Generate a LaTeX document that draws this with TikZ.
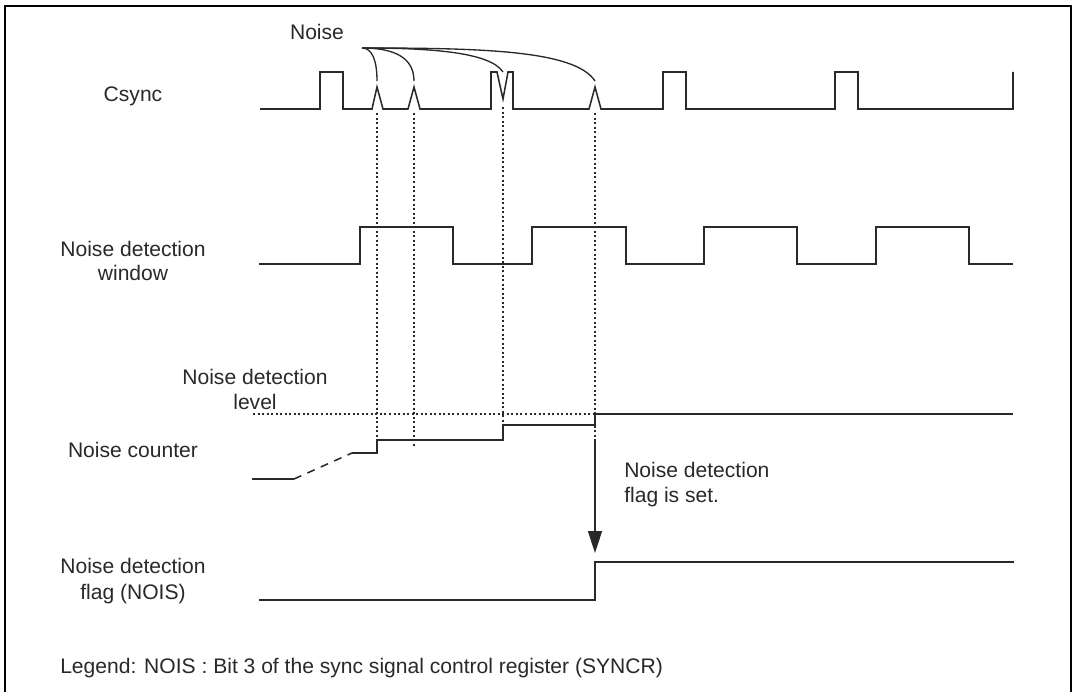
\documentclass[tikz,border=0pt]{standalone}
\usepackage{fontspec}
\setmainfont{Liberation Sans}
\usetikzlibrary{arrows.meta}
\definecolor{inkgray}{HTML}{2B2829}

\begin{document}
\begin{tikzpicture}[
  x=0.75pt, y=-0.75pt,
  >={Triangle[length=16.5pt, width=10.5pt]},
  wave/.style={inkgray, line width=1.15pt, line join=miter},
  guide/.style={inkgray, line width=1.25pt, dash pattern=on 1.5pt off 1.9pt},
  label/.style={font=\fontsize{15.8}{18.7}\selectfont, text=inkgray, align=center, inner sep=0pt},
]
\useasboundingbox (0,0) rectangle (1072,692);
\fill[white] (0,0) rectangle (1072,692);

% Frame (open at the bottom)
\draw[black, line width=1.9pt] (5,692) -- (5,6) -- (1071,6) -- (1071,692);

% Labels
\node[label, anchor=base] (noise) at (317,40) {Noise};
\node[label, anchor=base] (csync) at (133,101.5) {Csync};
\node[label] (window) at (133,261) {Noise detection\\window};
\node[label] (level) at (255,389.5) {Noise detection\\level};
\node[label, anchor=base] (counter) at (133,457) {Noise counter};
\node[label, font=\fontsize{15.8}{19.5}\selectfont] (flag) at (133,581) {Noise detection\\flag (NOIS)};
\node[label, anchor=base west] (isset) at (624,477) {Noise detection};
\node[label, anchor=base west] (isset2) at (624,502) {flag is set.};
\node[label, anchor=base west] (legend) at (60,673.5) {Legend: NOIS : Bit 3 of the sync signal control register (SYNCR)};

% ============ Csync ============
\draw[wave] (260,109) -- (320,109) -- (320,72) -- (343,72) -- (343,109)
  -- (372,109) -- (377,87) coordinate (s1) -- (383,109)
  -- (408,109) -- (414,87) coordinate (s2) -- (420,109)
  -- (491,109) -- (491,72) -- (497,72) -- (503,99) coordinate (s3) -- (508,72) -- (513,72) -- (513,109)
  -- (589,109) -- (595,87) coordinate (s4) -- (601,109)
  -- (663,109) -- (663,72) -- (686,72) -- (686,109)
  -- (835,109) -- (835,72) -- (858,72) -- (858,109)
  -- (1013,109) -- (1013,72);

% Noise callouts
\coordinate (root) at (362,48);
\coordinate (c1) at (377,81);
\coordinate (c2) at (414,81);
\coordinate (c3) at (503,72);
\coordinate (c4) at (595,81);
\draw[wave, line width=1pt] (root) .. controls (372,48) and (377,60) .. (c1);
\draw[wave, line width=1pt] (root) .. controls (395,48) and (414,58) .. (c2);
\draw[wave, line width=1pt] (root) .. controls (430,48) and (490,52) .. (c3);
\draw[wave, line width=1pt] (root) .. controls (480,48) and (575,50) .. (c4);

% ============ Noise detection window ============
\draw[wave] (259,264) -- (360,264) -- (360,227) -- (453,227) -- (453,264)
  -- (532,264) -- (532,227) -- (626,227) -- (626,264)
  -- (704,264) -- (704,227) -- (797,227) -- (797,264)
  -- (876,264) -- (876,227) -- (969,227) -- (969,264) -- (1013,264);

% ============ Noise counter ============
\draw[wave] (252,479) -- (294,479);
\draw[wave, dash pattern=on 6pt off 5pt] (294,479) -- (352,453);
\draw[wave] (352,453) -- (377,453) -- (377,440) coordinate (k1) -- (503,440)
  -- (503,425) coordinate (k3) -- (595,425) -- (595,414) coordinate (k4) -- (1013,414);

% Detection level
\draw[guide] (253,414) -- (k4);

% Guides
\draw[guide] (377,113) -- (k1);
\draw[guide] (414,113) -- (414,448);
\draw[guide] (503,107) -- (k3);
\draw[guide] (595,113) -- (595,440);

% ============ Noise detection flag ============
\draw[wave, ->] (595,440) -- (595,553);
\draw[wave] (259,600) -- (595,600) -- (595,562) -- (1014,562);

\end{tikzpicture}
\end{document}
